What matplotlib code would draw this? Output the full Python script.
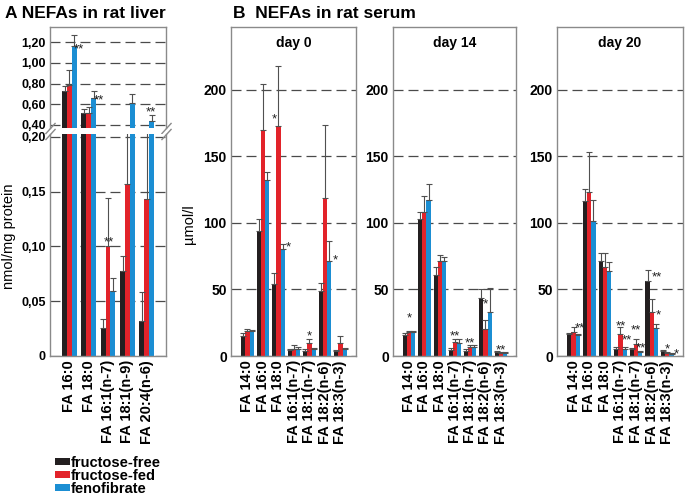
import numpy as np
import matplotlib
matplotlib.use("Agg")
import matplotlib.pyplot as plt
from matplotlib.patches import Patch

plt.rcParams['font.family'] = ['Liberation Sans', 'DejaVu Sans']
plt.rcParams['font.weight'] = 'bold'

# --- data ---
series_names = ['fructose-free', 'fructose-fed', 'fenofibrate']
colors = ['#231f20', '#e2232a', '#1b8ed3']

liver_labels = ['FA 16:0', 'FA 18:0', 'FA 16:1(n-7)', 'FA 18:1(n-9)', 'FA 20:4(n-6)']
liver_free = [0.733, 0.519, 0.026, 0.078, 0.032]
liver_free_err = [0.047, 0.031, 0.008, 0.013, 0.026]
liver_fed = [0.79, 0.513, 0.100, 0.157, 0.143]
liver_fed_err = [0.144, 0.064, 0.044, 0.18, 0.19]
liver_feno = [1.16, 0.665, 0.059, 0.613, 0.44]
liver_feno_err = [0.105, 0.064, 0.012, 0.087, 0.053]

serum_labels = ['FA 14:0', 'FA 16:0', 'FA 18:0', 'FA 16:1(n-7)', 'FA 18:1(n-7)',
                'FA 18:2(n-6)', 'FA 18:3(n-3)']
day_titles = ['day 0', 'day 14', 'day 20']

day0_free = [15, 94, 54, 4.3, 4, 48.5, 4]
day0_free_err = [2, 9, 8, 1.2, 1, 6.5, 0.5]
day0_fed = [19, 170, 173, 5.5, 9.5, 118.5, 9.5]
day0_fed_err = [1.5, 34, 45, 2.5, 3.5, 55, 5.5]
day0_feno = [19, 132, 80.5, 5.5, 5.5, 71, 5.5]
day0_feno_err = [0.5, 6, 3.5, 1.5, 0.5, 15, 0.5]

day14_free = [16, 103, 61, 4.3, 3.8, 43.4, 3]
day14_free_err = [1, 5, 6, 2, 1.7, 6.6, 0.5]
day14_fed = [18, 108, 71, 10.6, 6.8, 20, 2.3]
day14_fed_err = [1, 12, 5, 2.4, 1.2, 7, 0.7]
day14_feno = [18, 117, 71, 10, 6.8, 33, 2.3]
day14_feno_err = [0.5, 12, 3, 2.4, 1.2, 18, 0.7]

day20_free = [16.4, 116.7, 71, 5, 5, 56, 3.8]
day20_free_err = [1, 8.8, 6, 1.8, 1.3, 8.4, 0.5]
day20_fed = [18, 123, 66.7, 16.4, 9.3, 33, 2.5]
day20_fed_err = [3.5, 30, 10.3, 5.6, 3.1, 9.7, 0.5]
day20_feno = [15.7, 101.5, 63.6, 5, 3, 21, 1.8]
day20_feno_err = [0.7, 15.5, 7.1, 1.8, 0.8, 3, 0.5]

# significance marks: (group, series, text, anchor, dx px, dy px)
liver_stars = [(0, 2, '**', 'bar', 5, 0), (1, 2, '**', 'bar', 5, 0),
               (2, 1, '**', 'bar', 1, 7), (4, 2, '**', 'err', -1, 6)]
day0_stars = [(2, 1, '*', 'bar', -4, 9), (2, 2, '*', 'bar', 6, 4),
              (4, 1, '*', 'err', 0, 5), (5, 2, '*', 'bar', 6, 4)]
day14_stars = [(0, 1, '*', 'err', 0, 15), (3, 1, '**', 'err', 0, 5),
               (4, 1, '**', 'err', 0, 5), (5, 0, '**', 'bar', 3, -3),
               (6, 1, '**', 'err', 0, 5)]
day20_stars = [(0, 2, '**', 'bar', 2, 10), (3, 1, '**', 'err', 0, 3),
               (3, 2, '**', 'bar', 2, 12), (4, 1, '**', 'err', 0, 12),
               (4, 2, '**', 'bar', 1, 7), (5, 0, '**', 'bar', 9, 7),
               (5, 1, '*', 'bar', 7, 0), (6, 1, '*', 'err', 0, 6),
               (6, 2, '*', 'bar', 5, 2)]

FRAME = '#8a8a8a'
GRID = '#4a4a4a'


def comma(v):
    return '0' if v == 0 else f'{v:.2f}'.replace('.', ',')


def draw_bars(ax, vals, errs, width, stars):
    x = np.arange(len(vals[0]))
    tops = []
    for i, (v, e) in enumerate(zip(vals, errs)):
        xi = x + (i - 1) * width
        ax.bar(xi, v, width, color=colors[i], zorder=2, linewidth=0)
        ax.errorbar(xi, v, yerr=[np.zeros(len(v)), e], fmt='none', ecolor='#505050',
                    elinewidth=0.8, capsize=2.5, capthick=0.8, zorder=3)
        tops.append((xi, np.array(v), np.array(v) + np.array(e)))
    for g, s, txt, anchor, dx, dy in stars:
        xi, v, top = tops[s]
        y = v[g] if anchor == 'bar' else top[g]
        ax.annotate(txt, (xi[g], y), xytext=(dx, dy - 6), textcoords='offset pixels',
                    ha='center', va='baseline', fontsize=9.5, fontweight='normal',
                    color='#222222', zorder=4, annotation_clip=False)


def style(ax):
    for sp in ax.spines.values():
        sp.set_color(FRAME)
        sp.set_linewidth(1)
    ax.tick_params(length=0, pad=3)
    ax.set_axisbelow(True)
    ax.yaxis.grid(True, color=GRID, linestyle=(0, (8, 4)), linewidth=0.9)


fig = plt.figure(figsize=(6.85, 4.95), dpi=100)
W, H = 685, 495


def box(l, t, r, b):
    return [l / W, 1 - b / H, (r - l) / W, (b - t) / H]


# --- panel A, broken axis ---
ax_up = fig.add_axes(box(50, 27, 166, 128))
ax_lo = fig.add_axes(box(50, 134, 166, 356))
liver_vals = [liver_free, liver_fed, liver_feno]
liver_errs = [liver_free_err, liver_fed_err, liver_feno_err]
for ax in (ax_up, ax_lo):
    style(ax)
    ax.set_xlim(-1.0, 5.0)
draw_bars(ax_up, liver_vals, liver_errs, 0.25, [s for s in liver_stars if s[0] in (0, 1, 4)])
draw_bars(ax_lo, liver_vals, liver_errs, 0.25, [s for s in liver_stars if s[0] == 2])
ax_up.set_ylim(0.371, 1.347)
up_ticks = [0.40, 0.60, 0.80, 1.00, 1.20]
ax_up.set_yticks(up_ticks, [comma(t) for t in up_ticks], fontsize=9)
ax_up.set_xticks([])
ax_up.spines['bottom'].set_visible(False)
ax_lo.set_ylim(0, 0.2027)
lo_ticks = [0, 0.05, 0.10, 0.15, 0.20]
ax_lo.set_yticks(lo_ticks, [comma(t) for t in lo_ticks], fontsize=9)
ax_lo.spines['top'].set_visible(False)
ax_lo.set_xticks(np.arange(len(liver_labels)), liver_labels, rotation=90, fontsize=10.5)
ax_lo.set_ylabel('nmol/mg protein', fontsize=10.5)
ax_lo.yaxis.set_label_coords(-0.29, 0.54)

# break marks
kw = dict(marker=[(-1, -1.1), (1, 1.1)], markersize=8, linestyle='none',
          color=FRAME, mec=FRAME, mew=1, clip_on=False)
ax_up.plot([0, 1], [0, 0], transform=ax_up.transAxes, **kw)
ax_lo.plot([0, 1], [1, 1], transform=ax_lo.transAxes, **kw)

# --- panel B ---
serum_vals = [[day0_free, day0_fed, day0_feno],
              [day14_free, day14_fed, day14_feno],
              [day20_free, day20_fed, day20_feno]]
serum_errs = [[day0_free_err, day0_fed_err, day0_feno_err],
              [day14_free_err, day14_fed_err, day14_feno_err],
              [day20_free_err, day20_fed_err, day20_feno_err]]
serum_stars = [day0_stars, day14_stars, day20_stars]
lefts = [(231, 356), (393, 516), (557, 683)]
for k, (l, r) in enumerate(lefts):
    ax = fig.add_axes(box(l, 27, r, 356))
    style(ax)
    draw_bars(ax, serum_vals[k], serum_errs[k], 0.27, serum_stars[k])
    ax.set_xlim(-1.06, 7.0)
    ax.set_ylim(0, 247)
    ax.set_yticks([0, 50, 100, 150, 200], ['0', '50', '100', '150', '200'], fontsize=10)
    ax.set_xticks(np.arange(len(serum_labels)), serum_labels, rotation=90, fontsize=10.5)
    ax.text(0.5, 0.95, day_titles[k], transform=ax.transAxes, ha='center', va='center',
            fontsize=10)
    if k == 0:
        ax.set_ylabel('µmol/l', fontsize=10.5)
        ax.yaxis.set_label_coords(-0.28, 0.40)

fig.text(5 / W, 1 - 13 / H, 'A NEFAs in rat liver', fontsize=12.5, va='center')
fig.text(233 / W, 1 - 14 / H, 'B  NEFAs in rat serum', fontsize=12.5, va='center')

handles = [Patch(color=c, linewidth=0) for c in colors]
fig.legend(handles, series_names, loc='upper left', bbox_to_anchor=(55 / W, 1 - 456 / H),
           frameon=False, fontsize=10.5, handlelength=1.0, handleheight=0.35,
           handletextpad=0.1, labelspacing=-0.08, borderpad=0, borderaxespad=0)

fig.savefig('out.png', dpi=100)
